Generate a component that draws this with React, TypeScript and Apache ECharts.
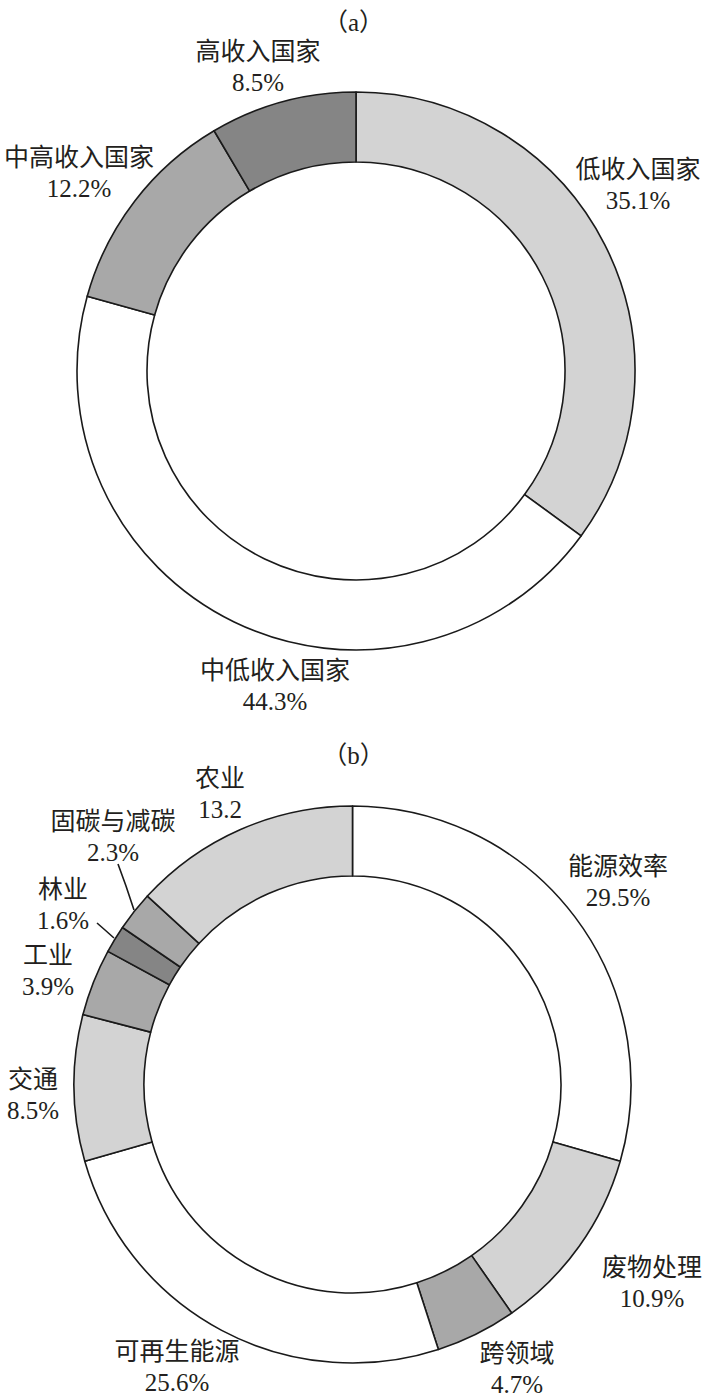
import React, { useEffect, useRef } from 'react';
import * as echarts from 'echarts';

// (a) 按收入水平
const incomeNames = ['低收入国家', '中低收入国家', '中高收入国家', '高收入国家'];
const incomeValues = [35.1, 44.3, 12.2, 8.5];

// (b) 按领域
const sectorNames = ['能源效率', '废物处理', '跨领域', '可再生能源', '交通', '工业', '林业', '固碳与减碳', '农业'];
const sectorValues = [29.5, 10.9, 4.7, 25.6, 8.5, 3.9, 1.6, 2.3, 13.2];

const LIGHT = '#d3d3d3';
const MID = '#a8a8a8';
const DARK = '#858585';
const WHITE = '#ffffff';

const incomeColors = [LIGHT, WHITE, MID, DARK];
const sectorColors = [WHITE, LIGHT, MID, WHITE, LIGHT, MID, DARK, MID, LIGHT];

// label block centres (annotation placement only)
const incomeLabelPos = [
  [638, 185],
  [275, 686],
  [79, 173],
  [258, 67],
];
const sectorLabelPos = [
  [618, 882],
  [652, 1283],
  [517, 1369],
  [177, 1367],
  [33, 1095],
  [48, 971],
  [63, 905],
  [113, 837],
  [220, 794],
];
const sectorLeaders: Record<number, number[][]> = {
  7: [[118, 864], [126, 886], [134, 910]],
  6: [[97, 923], [105, 930], [114, 938]],
};

const FONT = "'Liberation Serif', 'Noto Sans CJK SC', serif";
const TEXT = '#231f20';

const App: React.FC = () => {
  const chartRef = useRef<HTMLDivElement>(null);

  useEffect(() => {
    if (!chartRef.current) return;
    const chart = echarts.init(chartRef.current, undefined, { renderer: 'svg' });

    const labelStyle = {
      show: true,
      position: 'outside',
      fontFamily: FONT,
      fontSize: 25,
      lineHeight: 31,
      color: TEXT,
      align: 'center',
    };

    const titleStyle = { fontFamily: FONT, fontSize: 25, fontWeight: 'normal', color: TEXT };

    const option = {
      animation: false,
      backgroundColor: '#ffffff',
      title: [
        { text: '（a）', left: 'center', top: 5, textStyle: titleStyle },
        { text: '（b）', left: 'center', top: 738, textStyle: titleStyle },
      ],
      series: [
        {
          type: 'pie',
          center: [356, 371],
          radius: [209, 279],
          startAngle: 90,
          clockwise: true,
          avoidLabelOverlap: false,
          itemStyle: { borderColor: '#1a1a1a', borderWidth: 1.6 },
          label: { ...labelStyle, formatter: (p: any) => `${p.name}\n${p.value}%` },
          labelLine: { show: false },
          labelLayout: (p: any) => ({
            x: incomeLabelPos[p.dataIndex][0],
            y: incomeLabelPos[p.dataIndex][1],
            align: 'center',
            verticalAlign: 'middle',
          }),
          data: incomeNames.map((name, i) => ({
            name,
            value: incomeValues[i],
            itemStyle: { color: incomeColors[i] },
          })),
        },
        {
          type: 'pie',
          center: [352.5, 1084.5],
          radius: [208.5, 278.5],
          startAngle: 90,
          clockwise: true,
          avoidLabelOverlap: false,
          itemStyle: { borderColor: '#1a1a1a', borderWidth: 1.6 },
          label: {
            ...labelStyle,
            formatter: (p: any) => `${p.name}\n${p.value}${p.name === '农业' ? '' : '%'}`,
          },
          labelLine: { show: false },
          labelLayout: (p: any) => {
            const res: any = {
              x: sectorLabelPos[p.dataIndex][0],
              y: sectorLabelPos[p.dataIndex][1],
              align: 'center',
              verticalAlign: 'middle',
            };
            if (sectorLeaders[p.dataIndex]) res.labelLinePoints = sectorLeaders[p.dataIndex];
            return res;
          },
          data: sectorNames.map((name, i) => ({
            name,
            value: sectorValues[i],
            itemStyle: { color: sectorColors[i] },
            labelLine: sectorLeaders[i]
              ? { show: true, lineStyle: { color: '#1a1a1a', width: 1.6 } }
              : { show: false },
          })),
        },
      ],
    };

    chart.setOption(option);
    return () => {
      chart.dispose();
    };
  }, []);

  return (
    <div
      ref={chartRef}
      style={{ position: 'absolute', left: 0, top: 0, width: '707px', height: '1400px' }}
    />
  );
};

export default App;
